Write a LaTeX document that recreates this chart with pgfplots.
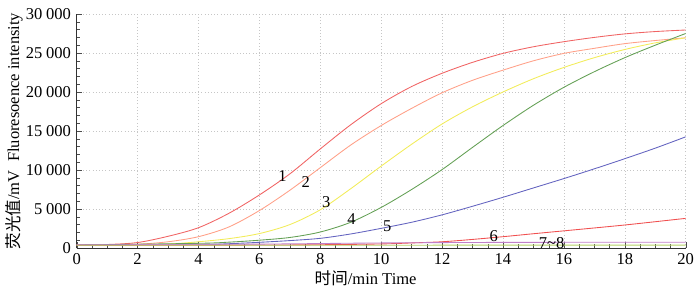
\documentclass[border=0pt]{standalone}
\usepackage{fontspec}
\setmainfont{Liberation Serif}
\newfontfamily\cjk{Noto Sans CJK SC}
\usepackage{pgfplots}
\pgfplotsset{compat=1.18}
\definecolor{cA}{RGB}{240,100,100}
\definecolor{cB}{RGB}{255,160,136}
\definecolor{cC}{RGB}{242,236,90}
\definecolor{cD}{RGB}{100,160,85}
\definecolor{cE}{RGB}{100,100,192}
\definecolor{cF}{RGB}{240,80,80}
\definecolor{cG}{RGB}{192,128,200}
\definecolor{cH}{RGB}{180,210,100}
\begin{document}
\fontsize{12.4}{14}\selectfont
\begin{tikzpicture}
\useasboundingbox (-57.5pt,-34.5pt) rectangle (467.5pt,186pt);
\begin{axis}[
  scale only axis, width=456.75pt, height=175.5pt,
  xmin=0, xmax=20, ymin=0, ymax=30000,
  axis x line=bottom, axis y line=left,
  axis line style={-, black!80},
  xtick={0,2,...,20}, ytick={0,5000,...,30000},
  minor x tick num=3, minor y tick num=4,
  tick align=inside,
  tick style={black!70},
  grid=major, major grid style={dotted, gray!45},
  scaled y ticks=false,
  /pgf/number format/assume math mode=true,
  xticklabel={\pgfmathprintnumber{\tick}},
  yticklabel={\pgfmathprintnumber[1000 sep={\hspace{0.22em}}]{\tick}},
  xlabel={{\cjk 时间}/min Time},
  ylabel={{\cjk 荧光值}/mV\ \ Fluoresoence intensity},
  every axis x label/.style={at={(axis description cs:0.4745,-0.128)}, anchor=center},
  every axis y label/.style={at={(axis description cs:-0.103,0.5)}, rotate=90, anchor=center},
  every axis plot/.append style={line width=0.65pt, smooth},
]
% curve 1
\addplot[cA] coordinates {(0,420)(1,450)(2,700)(3,1500)(4,2600)(5,4450)(6,6800)(7,9500)(8,12700)(9,15800)(10,18500)(11,20700)(12,22400)(13,23800)(14,24950)(15,25800)(16,26450)(17,27000)(18,27450)(19,27750)(20,27950)};
% curve 2
\addplot[cB] coordinates {(0,400)(1,420)(2,480)(3,800)(4,1450)(5,2700)(6,4800)(7,7400)(8,10300)(9,13200)(10,15700)(11,17900)(12,19900)(13,21500)(14,22800)(15,24000)(16,24950)(17,25600)(18,26200)(19,26600)(20,26950)};
% curve 3
\addplot[cC] coordinates {(0,380)(2,400)(3,500)(4,800)(5,1200)(6,1850)(7,3000)(8,4900)(9,7600)(10,10500)(11,13300)(12,15900)(13,18100)(14,20000)(15,21700)(16,23150)(17,24400)(18,25450)(19,26300)(20,26950)};
% curve 4
\addplot[cD] coordinates {(0,380)(4,600)(5,750)(6,1000)(7,1350)(8,2050)(9,3300)(10,5200)(11,7500)(12,10050)(13,12900)(14,15700)(15,18300)(16,20600)(17,22600)(18,24400)(19,26000)(20,27500)};
% curve 5
\addplot[cE] coordinates {(0,380)(4,450)(5,550)(6,730)(7,950)(8,1240)(9,1800)(10,2520)(11,3300)(12,4250)(13,5350)(14,6500)(15,7700)(16,8900)(17,10150)(18,11450)(19,12800)(20,14250)};
% curve 6
\addplot[cF] coordinates {(0,350)(6,380)(8,420)(10,520)(11,650)(12,800)(13,1100)(14,1450)(15,1830)(16,2200)(17,2570)(18,2950)(19,3370)(20,3800)};
% curve 7
\addplot[cG] coordinates {(0,400)(6,500)(10,650)(14,720)(20,740)};
% curve 8
\addplot[cH] coordinates {(0,350)(10,360)(20,370)};
\node at (axis cs:6.76,9230) {1};
\node at (axis cs:7.52,8460) {2};
\node at (axis cs:8.2,5900) {3};
\node at (axis cs:9.03,3700) {4};
\node at (axis cs:10.2,2800) {5};
\node at (axis cs:13.7,1540) {6};
\node at (axis cs:15.6,640) {7\textasciitilde 8};
\end{axis}
\end{tikzpicture}
\end{document}
